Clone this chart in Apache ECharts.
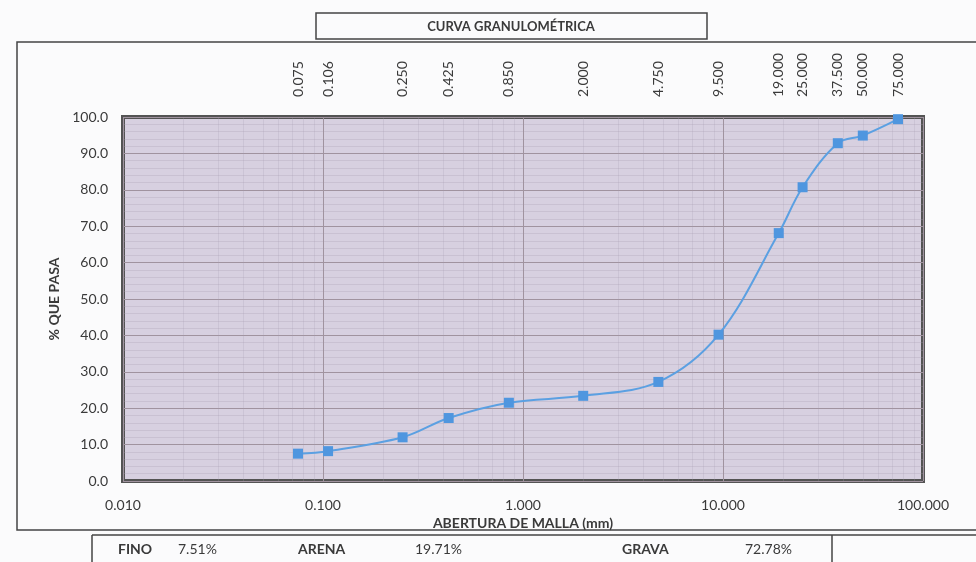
<!DOCTYPE html>
<html><head><meta charset="utf-8">
<script src="https://cdn.jsdelivr.net/npm/echarts@6/dist/echarts.min.js"></script>
<style>html,body{margin:0;padding:0;background:#fbfbfc;} #c{width:976px;height:562px;}</style>
</head><body><div id="c"></div>
<script>
const sieveSizes = [0.075, 0.106, 0.250, 0.425, 0.850, 2.000, 4.750, 9.500, 19.000, 25.000, 37.500, 50.000, 75.000];
const percentPassing = [7.51, 8.2, 12.0, 17.3, 21.5, 23.4, 27.22, 40.2, 68.1, 80.7, 92.8, 94.9, 99.4];
const xMin = 0.01, xMax = 100;
const yMin = 0, yMax = 100, yStep = 10;
const fractionNames = ['FINO', 'ARENA', 'GRAVA'];
const fractionValues = ['7.51%', '19.71%', '72.78%'];
const titleText = 'CURVA GRANULOMÉTRICA';
const xAxisName = 'ABERTURA DE MALLA (mm)';
const yAxisName = '% QUE PASA';

const FONT = 'Lato, "Open Sans", sans-serif';
const TXT = '#3a3a3a';

// faint log minor gridlines (2..9 within each decade)
const minorX = [];
for (let e = -2; e < 2; e++) for (let m = 2; m <= 9; m++) minorX.push(+(m * Math.pow(10, e)).toPrecision(3));

const chart = echarts.init(document.getElementById('c'), null, {renderer: 'canvas'});
chart.setOption({
  backgroundColor: '#fbfbfc',
  animation: false,
  grid: {left: 123, right: 53, top: 117, bottom: 81, show: true,
         backgroundColor: '#d7d0e0', borderColor: '#545454', borderWidth: 4},
  xAxis: [{
    type: 'log', logBase: 10, min: xMin, max: xMax, position: 'bottom',
    name: xAxisName, nameLocation: 'middle', nameGap: 30,
    nameTextStyle: {fontFamily: FONT, fontWeight: 'bold', fontSize: 14, color: TXT},
    axisLine: {show: false}, axisTick: {show: false},
    axisLabel: {fontFamily: FONT, fontSize: 14, color: TXT, margin: 17,
                formatter: v => Number(v).toFixed(3)},
    splitLine: {show: true, lineStyle: {color: '#a0939f', width: 1}}
  }, {
    type: 'log', logBase: 10, min: xMin, max: xMax, position: 'top',
    axisLine: {show: false}, axisTick: {show: false}, splitLine: {show: false},
    axisLabel: {customValues: sieveSizes, rotate: -90, fontFamily: FONT, fontSize: 14, color: TXT,
                margin: 20, formatter: v => Number(v).toFixed(3)}
  }],
  yAxis: {
    type: 'value', min: yMin, max: yMax, interval: yStep,
    name: yAxisName, nameLocation: 'middle', nameGap: 60,
    nameTextStyle: {fontFamily: FONT, fontWeight: 'bold', fontSize: 14, color: TXT},
    axisLine: {show: false}, axisTick: {show: false},
    axisLabel: {fontFamily: FONT, fontSize: 14, color: TXT, margin: 15,
                formatter: v => Number(v).toFixed(1)},
    splitLine: {show: true, lineStyle: {color: '#a0939f', width: 1}},
    minorTick: {show: false, splitNumber: 5},
    minorSplitLine: {show: true, lineStyle: {color: 'rgba(165,155,175,0.28)', width: 1}}
  },
  series: [{
    type: 'line', xAxisIndex: 0, yAxisIndex: 0,
    data: sieveSizes.map((s, i) => [s, percentPassing[i]]),
    smooth: 0.35, symbol: 'rect', symbolSize: 10,
    lineStyle: {color: '#5ba0e2', width: 2},
    itemStyle: {color: '#4f96df'},
    clip: false, z: 5,
    markLine: {silent: true, symbol: 'none', label: {show: false},
      lineStyle: {color: 'rgba(165,155,175,0.22)', width: 1, type: 'solid'},
      data: minorX.map(v => ({xAxis: v})), z: 1}
  }],
  graphic: [
    {type: 'rect', z: -10, shape: {x: 17, y: 42, width: 975, height: 488},
     style: {fill: 'none', stroke: '#444', lineWidth: 1.5}},
    {type: 'rect', z: 10, shape: {x: 316, y: 13, width: 391, height: 26},
     style: {fill: '#fbfbfc', stroke: '#444', lineWidth: 1.5}},
    {type: 'text', z: 11, x: 511, y: 27,
     style: {text: titleText, font: 'bold 13px ' + FONT, fill: TXT, align: 'center', verticalAlign: 'middle'}},
    {type: 'line', shape: {x1: 92, y1: 535, x2: 976, y2: 535}, style: {stroke: '#444', lineWidth: 1.5}},
    {type: 'line', shape: {x1: 92, y1: 535, x2: 92, y2: 562}, style: {stroke: '#444', lineWidth: 1.5}},
    {type: 'line', shape: {x1: 832, y1: 535, x2: 832, y2: 562}, style: {stroke: '#444', lineWidth: 1.5}},
    {type: 'text', x: 118, y: 549, style: {text: fractionNames[0], font: 'bold 14px ' + FONT, fill: TXT, verticalAlign: 'middle'}},
    {type: 'text', x: 178, y: 549, style: {text: fractionValues[0], font: '14px ' + FONT, fill: TXT, verticalAlign: 'middle'}},
    {type: 'text', x: 298, y: 549, style: {text: fractionNames[1], font: 'bold 14px ' + FONT, fill: TXT, verticalAlign: 'middle'}},
    {type: 'text', x: 415, y: 549, style: {text: fractionValues[1], font: '14px ' + FONT, fill: TXT, verticalAlign: 'middle'}},
    {type: 'text', x: 622, y: 549, style: {text: fractionNames[2], font: 'bold 14px ' + FONT, fill: TXT, verticalAlign: 'middle'}},
    {type: 'text', x: 745, y: 549, style: {text: fractionValues[2], font: '14px ' + FONT, fill: TXT, verticalAlign: 'middle'}}
  ]
});
</script></body></html>
